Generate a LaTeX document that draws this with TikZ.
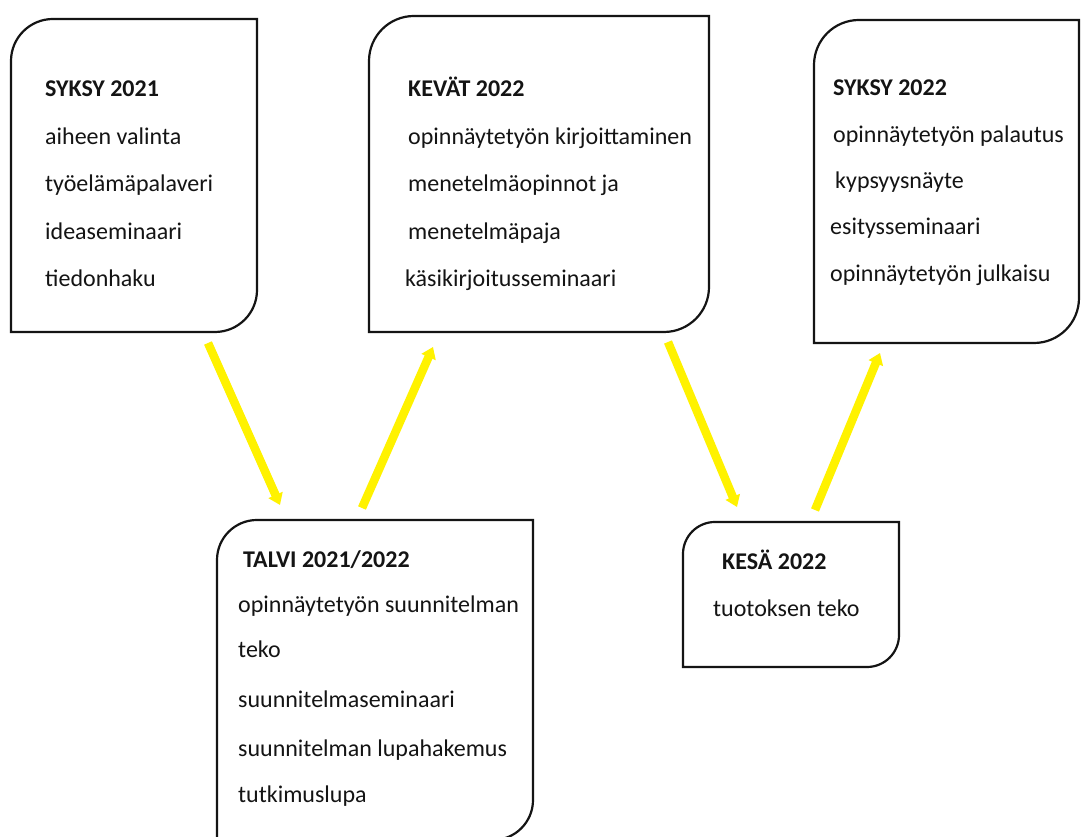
\documentclass[tikz,border=0pt]{standalone}
\usepackage{fontspec}
\setmainfont{Carlito}
\usetikzlibrary{arrows.meta,calc}
\newcommand{\boxoutline}[2]{%
  \draw[boxline] let \p1=(#1.south west), \p2=(#1.north east) in
    (\x1,\y1) -- (\x1,\y2-#2) arc[start angle=180,end angle=90,radius=#2]
    -- (\x2,\y2) -- (\x2,\y1+#2) arc[start angle=0,end angle=-90,radius=#2] -- cycle;}
\begin{document}
\begin{tikzpicture}[x=1pt,y=1pt,
  frame/.style={anchor=north west, inner sep=0pt, outer sep=0pt, draw=none},
  boxline/.style={line width=2.2pt, draw=black!92},
  txt/.style={anchor=base west, inner sep=0pt, font=\fontsize{24}{28}\selectfont, text=black!92},
  head/.style={txt, font=\fontsize{24}{28}\selectfont\bfseries},
  flow/.style={draw=yellow, line width=8.5pt, -{Triangle[length=11pt,width=15pt]}}]
\useasboundingbox (0,0) rectangle (1082,837);
\clip (0,0) rectangle (1082,837);
\fill[white] (0,0) rectangle (1082,837);

% boxes (frames)
\node[frame, minimum width=246, minimum height=313] (b1) at (11,{837-19}) {};
\node[frame, minimum width=340, minimum height=316] (b2) at (369,{837-16}) {};
\node[frame, minimum width=265, minimum height=323] (b3) at (814,{837-20}) {};
\node[frame, minimum width=316, minimum height=320] (b4) at (217,{837-520}) {};
\node[frame, minimum width=216, minimum height=145] (b5) at (683,{837-522}) {};
\boxoutline{b1}{42pt}
\boxoutline{b2}{45pt}
\boxoutline{b3}{45pt}
\boxoutline{b4}{40pt}
\boxoutline{b5}{32pt}

% SYKSY 2021
\node[head] (b1t0) at (45,{837-97}) {SYKSY 2021};
\node[txt] (b1t1) at (45,{837-145}) {aiheen valinta};
\node[txt] (b1t2) at (45,{837-192}) {työelämäpalaveri};
\node[txt] (b1t3) at (45,{837-240}) {ideaseminaari};
\node[txt] (b1t4) at (45,{837-287}) {tiedonhaku};

% KEVÄT 2022
\node[head] (b2t0) at (408,{837-97}) {KEVÄT 2022};
\node[txt] (b2t1) at (408,{837-145}) {opinnäytetyön kirjoittaminen};
\node[txt] (b2t2) at (408,{837-192}) {menetelmäopinnot ja};
\node[txt] (b2t3) at (408,{837-240}) {menetelmäpaja};
\node[txt] (b2t4) at (405,{837-287}) {käsikirjoitusseminaari};

% SYKSY 2022
\node[head] (b3t0) at (833,{837-96}) {SYKSY 2022};
\node[txt] (b3t1) at (833,{837-143}) {opinnäytetyön palautus};
\node[txt] (b3t2) at (835,{837-189}) {kypsyysnäyte};
\node[txt] (b3t3) at (830,{837-235}) {esitysseminaari};
\node[txt] (b3t4) at (830,{837-282}) {opinnäytetyön julkaisu};

% TALVI 2021/2022
\node[head] (b4t0) at (243,{837-568}) {TALVI 2021/2022};
\node[txt] (b4t1) at (238,{837-613}) {opinnäytetyön suunnitelman};
\node[txt] (b4t2) at (238,{837-658}) {teko};
\node[txt] (b4t3) at (238,{837-708}) {suunnitelmaseminaari};
\node[txt] (b4t4) at (238,{837-757}) {suunnitelman lupahakemus};
\node[txt] (b4t5) at (238,{837-803}) {tutkimuslupa};

% KESÄ 2022
\node[head] (b5t0) at (722,{837-570}) {KESÄ 2022};
\node[txt] (b5t1) at (713,{837-617}) {tuotoksen teko};

% arrow end points
\coordinate (a1s) at (208,{837-343});
\coordinate (a1e) at (280,{837-505});
\coordinate (a2s) at (362,{837-508});
\coordinate (a2e) at (433,{837-347});
\coordinate (a3s) at (668,{837-342});
\coordinate (a3e) at (737,{837-507});
\coordinate (a4s) at (815,{837-510});
\coordinate (a4e) at (880,{837-353});
\draw[flow] (a1s) -- (a1e);
\draw[flow] (a2s) -- (a2e);
\draw[flow] (a3s) -- (a3e);
\draw[flow] (a4s) -- (a4e);
\end{tikzpicture}
\end{document}
